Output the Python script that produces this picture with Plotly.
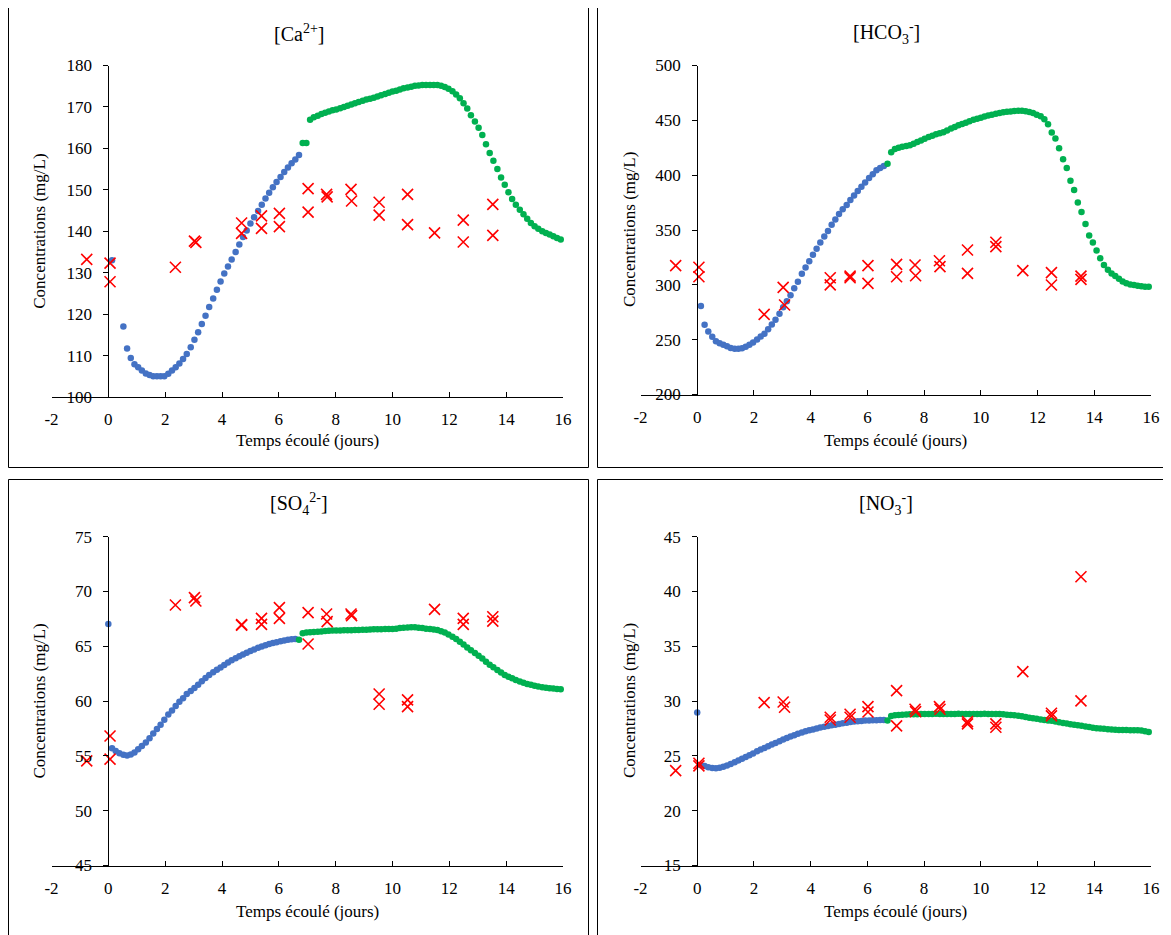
import plotly.graph_objects as go

# ---------------- data ----------------
T_START = [0.0]
T_BLUE = [0.13, 0.26, 0.39, 0.53, 0.66, 0.79, 0.92, 1.05, 1.18, 1.32, 1.45, 1.58, 1.71, 1.84, 1.97,
          2.11, 2.24, 2.37, 2.50, 2.63, 2.76, 2.90, 3.03, 3.16, 3.29, 3.42, 3.55, 3.69, 3.82, 3.95,
          4.08, 4.21, 4.34, 4.48, 4.61, 4.74, 4.87, 5.00, 5.13, 5.27, 5.40, 5.53, 5.66, 5.79, 5.92,
          6.06, 6.19, 6.32, 6.45, 6.58, 6.71]
T_GREEN = [6.71, 6.84, 6.97, 7.10, 7.23, 7.37, 7.50, 7.63, 7.76, 7.89, 8.02,
           8.16, 8.29, 8.42, 8.55, 8.68, 8.81, 8.95, 9.08, 9.21, 9.34,
           9.47, 9.60, 9.74, 9.87, 10.00, 10.13, 10.26, 10.39, 10.53, 10.66,
           10.79, 10.92, 11.05, 11.18, 11.32, 11.45, 11.58, 11.71, 11.84, 11.97,
           12.11, 12.24, 12.37, 12.50, 12.63, 12.76, 12.90, 13.03, 13.16, 13.29,
           13.42, 13.55, 13.69, 13.82, 13.95, 14.08, 14.21, 14.34, 14.48, 14.61,
           14.74, 14.87, 15.00, 15.13, 15.27, 15.40, 15.53, 15.66, 15.79, 15.92]
T_OBS = [-0.76, 0.06, 0.06, 2.36, 3.03, 3.08, 4.69, 4.69, 5.39, 5.39, 6.02, 6.02, 7.03, 7.03,
         7.68, 7.70, 8.54, 8.56, 9.53, 9.53, 10.53, 10.53, 11.48, 12.49, 12.49, 13.53, 13.53]

CA_BLUE = [133.0, None, None, 117.0, 111.7, 109.4, 107.9, 107.2, 106.4, 105.7, 105.3, 105.0, 105.0, 105.0, 105.0,
           105.6, 106.4, 107.2, 108.1, 109.2, 110.4, 112.0, 113.8, 115.6, 117.6, 119.6, 121.7, 123.8, 125.9, 127.9,
           129.8, 131.5, 133.2, 135.0, 136.8, 138.6, 140.2, 141.9, 143.4, 144.9, 146.4, 147.9, 149.3, 150.6, 151.9,
           153.1, 154.3, 155.4, 156.4, 157.3, 158.4]
CA_GREEN = [None, 161.3, 161.3, 166.9, 167.5, 167.9, 168.3, 168.6, 168.9, 169.2, 169.4,
            169.7, 170.0, 170.3, 170.6, 170.9, 171.2, 171.5, 171.8, 172.0, 172.2,
            172.5, 172.8, 173.1, 173.4, 173.7, 173.9, 174.2, 174.5, 174.7, 174.9,
            175.1, 175.2, 175.3, 175.3, 175.3, 175.3, 175.3, 175.1, 174.8, 174.4,
            173.8, 173.0, 172.1, 170.9, 169.6, 168.0, 166.5, 165.0, 163.2, 161.0,
            158.9, 157.0, 155.0, 153.0, 151.2, 149.4, 147.8, 146.4, 145.2, 144.1,
            143.0, 142.0, 141.2, 140.6, 140.0, 139.6, 139.2, 138.8, 138.4, 138.0]
CA_OBS = [133.2, 132.3, 127.8, 131.3, 137.6, 137.3, 142.0, 139.5, 143.7, 140.7, 144.3, 141.1, 150.3, 144.6,
          148.9, 148.3, 150.1, 147.3, 147.0, 143.9, 148.9, 141.6, 139.6, 142.7, 137.4, 146.5, 139.0]

HCO3_BLUE = [280.6, 263.5, 257.5, 252.7, 248.6, 246.8, 245.3, 244.1, 242.5, 241.8, 241.7, 242.2, 243.5, 245.4, 247.5,
             250.1, 253.0, 255.4, 259.5, 263.8, 268.2, 273.6, 279.5, 285.0, 290.5, 296.9, 302.8, 310.0, 315.8, 321.5,
             327.4, 332.9, 338.6, 344.0, 349.2, 354.8, 359.6, 364.6, 368.9, 372.8, 377.4, 381.5, 385.6, 389.4, 393.2,
             397.4, 400.8, 404.5, 406.5, 408.4, None]
HCO3_GREEN = [410.5, 420.8, 423.8, 425.0, 425.8, 426.5, 427.3, 428.6, 430.2, 431.7, 433.2,
              434.7, 436.0, 437.2, 438.2, 439.2, 440.8, 442.5, 444.0, 445.5, 446.6,
              447.7, 449.2, 450.5, 451.5, 452.3, 453.4, 454.4, 455.2, 456.0, 456.7,
              457.3, 457.8, 458.1, 458.5, 458.8, 458.8, 458.3, 457.6, 456.7, 455.2,
              453.7, 451.0, 446.5, 439.0, 433.5, 424.5, 414.5, 406.5, 395.0, 386.5,
              375.0, 366.5, 355.5, 345.0, 338.5, 331.2, 324.2, 318.1, 313.8, 310.3,
              308.0, 305.5, 303.0, 301.4, 300.4, 299.8, 299.1, 298.7, 298.3, 298.3]
HCO3_OBS = [317.5, 316.0, 307.4, 273.0, 297.7, 281.6, 306.5, 300.0, 308.0, 306.5, 317.5, 301.3, 318.7, 307.4,
            318.1, 308.3, 322.0, 316.6, 331.8, 310.5, 338.8, 334.8, 312.9, 311.1, 299.8, 308.0, 305.0]

SO4_START = [67.04]
SO4_BLUE = [55.70, 55.45, 55.25, 55.10, 55.03, 55.12, 55.30, 55.60, 55.90, 56.22, 56.62, 57.05, 57.45, 57.85, 58.30,
            58.78, 59.15, 59.55, 59.95, 60.27, 60.65, 60.92, 61.20, 61.50, 61.80, 62.10, 62.38, 62.64, 62.87, 63.07,
            63.30, 63.52, 63.72, 63.90, 64.09, 64.26, 64.41, 64.56, 64.71, 64.86, 64.98, 65.10, 65.20, 65.30, 65.38,
            65.47, 65.54, 65.60, 65.65, 65.67, None]
SO4_GREEN = [65.60, 66.20, 66.25, 66.28, 66.30, 66.33, 66.36, 66.40, 66.42, 66.44, 66.45,
             66.45, 66.46, 66.47, 66.47, 66.48, 66.48, 66.50, 66.52, 66.53, 66.55,
             66.55, 66.56, 66.57, 66.57, 66.58, 66.60, 66.66, 66.70, 66.72, 66.73,
             66.73, 66.70, 66.66, 66.60, 66.57, 66.53, 66.48, 66.38, 66.25, 66.08,
             65.88, 65.66, 65.42, 65.17, 64.90, 64.65, 64.40, 64.13, 63.88, 63.60,
             63.32, 63.08, 62.83, 62.60, 62.39, 62.22, 62.08, 61.93, 61.78, 61.67,
             61.57, 61.49, 61.41, 61.33, 61.26, 61.21, 61.17, 61.14, 61.11, 61.08]
SO4_OBS = [54.54, 56.82, 54.70, 68.77, 69.44, 69.13, 66.98, 66.92, 67.55, 67.00, 68.53, 67.55, 68.07, 65.21,
           67.95, 67.25, 67.95, 67.80, 60.65, 59.71, 60.11, 59.50, 68.37, 67.55, 67.00, 67.70, 67.30]

NO3_START = [28.95]
NO3_BLUE = [24.15, 24.07, 23.97, 23.90, 23.88, 23.92, 24.00, 24.12, 24.27, 24.42, 24.59, 24.75, 24.90, 25.05, 25.21,
            25.42, 25.58, 25.73, 25.88, 26.03, 26.18, 26.34, 26.50, 26.64, 26.77, 26.89, 27.01, 27.13, 27.24, 27.33,
            27.42, 27.51, 27.60, 27.67, 27.73, 27.79, 27.85, 27.91, 27.97, 28.03, 28.09, 28.13, 28.16, 28.19, 28.22,
            28.22, 28.25, 28.25, 28.28, 28.28, None]
NO3_GREEN = [28.22, 28.65, 28.70, 28.74, 28.76, 28.78, 28.79, 28.80, 28.81, 28.82, 28.83,
             28.83, 28.83, 28.84, 28.83, 28.83, 28.82, 28.83, 28.83, 28.84, 28.83,
             28.83, 28.83, 28.82, 28.83, 28.83, 28.84, 28.83, 28.83, 28.82, 28.82,
             28.80, 28.76, 28.73, 28.70, 28.67, 28.62, 28.54, 28.48, 28.43, 28.38,
             28.31, 28.27, 28.24, 28.20, 28.14, 28.07, 28.01, 27.95, 27.89, 27.84,
             27.79, 27.74, 27.69, 27.64, 27.57, 27.53, 27.50, 27.47, 27.44, 27.41,
             27.38, 27.37, 27.37, 27.36, 27.35, 27.34, 27.34, 27.32, 27.25, 27.19]
NO3_OBS = [23.66, 24.33, 24.09, 29.86, 29.92, 29.44, 28.53, 28.28, 28.80, 28.53, 29.50, 29.01, 30.96, 27.74,
           29.26, 29.04, 29.50, 29.26, 28.13, 27.92, 27.92, 27.61, 32.69, 28.89, 28.65, 41.35, 30.02]

TITLES = ["[Ca<sup>2+</sup>]", "[HCO<sub>3</sub><sup>-</sup>]", "[SO<sub>4</sub><sup>2-</sup>]", "[NO<sub>3</sub><sup>-</sup>]"]
Y_RANGES = [(100, 180, 10), (200, 500, 50), (45, 75, 5), (15, 45, 5)]
X_TICKS = [-2, 0, 2, 4, 6, 8, 10, 12, 14, 16]
X_TICKTEXT = ["-2", "0", "2", "4", "6", "8", "10", "12", "14", "16"]
X_TITLE = "Temps écoulé (jours)"
Y_TITLE = "Concentrations (mg/L)"

# ---------------- figure ----------------
W, H = 1171, 935
OFF = 8  # page body margin in the browser
FONT = "Liberation Serif"
BLUE, GREEN, RED = "#4472C4", "#00B050", "#FF0000"


def fx(px):
    return (px - OFF) / W


def fy(py):
    return 1 - (py - OFF) / H


panels = [
    dict(t_blue=T_BLUE, blue=CA_BLUE, green=CA_GREEN, obs=CA_OBS),
    dict(t_blue=T_BLUE, blue=HCO3_BLUE, green=HCO3_GREEN, obs=HCO3_OBS),
    dict(t_blue=T_START + T_BLUE, blue=SO4_START + SO4_BLUE, green=SO4_GREEN, obs=SO4_OBS),
    dict(t_blue=T_START + T_BLUE, blue=NO3_START + NO3_BLUE, green=NO3_GREEN, obs=NO3_OBS),
]

# pixel geometry of each panel in screen pixels
geo = [
    dict(px=(51.5, 563.0), py=(65.5, 397.0), frame=(8.5, 588.5, 7.5, 467.5), tx=298.5, ty=33, ytx=39.5, xty=440),
    dict(px=(640.5, 1151.0), py=(65.5, 394.5), frame=(597.5, 1190, 7.5, 467.5), tx=886, ty=33, ytx=629, xty=440),
    dict(px=(51.5, 563.0), py=(536.7, 865.5), frame=(8.5, 588.5, 479.5, 960), tx=298.5, ty=504, ytx=39.5, xty=911),
    dict(px=(640.5, 1151.0), py=(536.7, 865.5), frame=(597.5, 1190, 479.5, 960), tx=886, ty=504, ytx=629, xty=911),
]

fig = go.Figure()
layout = dict(width=W, height=H, autosize=False, margin=dict(l=0, r=0, t=0, b=0, pad=0, autoexpand=False),
              paper_bgcolor="white", plot_bgcolor="white", showlegend=False,
              font=dict(family=FONT, color="black", size=17))
annotations = []
shapes = []

for i, (p, g) in enumerate(zip(panels, geo)):
    n = "" if i == 0 else str(i + 1)
    xa, ya = "x" + n, "y" + n
    fig.add_trace(go.Scatter(x=p["t_blue"], y=p["blue"], mode="markers", xaxis=xa, yaxis=ya,
                             marker=dict(color=BLUE, size=6.5), cliponaxis=False))
    fig.add_trace(go.Scatter(x=T_GREEN, y=p["green"], mode="markers", xaxis=xa, yaxis=ya,
                             marker=dict(color=GREEN, size=6.5), cliponaxis=False))
    fig.add_trace(go.Scatter(x=T_OBS, y=p["obs"], mode="markers", xaxis=xa, yaxis=ya,
                             marker=dict(symbol="x-thin", size=11, color=RED,
                                         line=dict(color=RED, width=1.6)), cliponaxis=False))
    x0, x1 = g["px"]
    yt, yb = g["py"]
    xdom = [fx(x0), fx(x1)]
    ydom = [fy(yb), fy(yt)]
    ypos = fx(x0 + (x1 - x0) * 2 / 18)
    lo, hi, dt = Y_RANGES[i]
    layout["xaxis" + n] = dict(domain=xdom, range=[-2, 16], anchor=ya, tickvals=X_TICKS, ticktext=X_TICKTEXT,
                               ticks="inside", ticklen=5, tickwidth=1, tickcolor="black",
                               showline=True, linecolor="black", linewidth=1, automargin=False,
                               showgrid=False, zeroline=False, ticklabelstandoff=7,
                               tickfont=dict(family=FONT, size=17, color="black"))
    layout["yaxis" + n] = dict(domain=ydom, range=[lo, hi], dtick=dt, tick0=lo, anchor="free", position=ypos,
                               ticks="outside", ticklen=5, tickwidth=1, tickcolor="black",
                               showline=True, linecolor="black", linewidth=1, automargin=False,
                               showgrid=False, zeroline=False, ticklabelstandoff=8,
                               tickfont=dict(family=FONT, size=17, color="black"))
    annotations.append(dict(text=TITLES[i], x=fx(g["tx"]), y=fy(g["ty"]), xref="paper", yref="paper",
                            showarrow=False, xanchor="center", yanchor="middle",
                            font=dict(family=FONT, size=20, color="black")))
    annotations.append(dict(text=Y_TITLE, x=fx(g["ytx"]), y=fy((yt + yb) / 2), xref="paper", yref="paper",
                            showarrow=False, textangle=-90, xanchor="center", yanchor="middle",
                            font=dict(family=FONT, size=17, color="black")))
    annotations.append(dict(text=X_TITLE, x=fx((x0 + x1) / 2), y=fy(g["xty"]), xref="paper", yref="paper",
                            showarrow=False, xanchor="center", yanchor="middle",
                            font=dict(family=FONT, size=17, color="black")))
    bx0, bx1, by0, by1 = g["frame"]
    shapes.append(dict(type="rect", xref="paper", yref="paper",
                       x0=fx(bx0), x1=fx(bx1), y0=fy(by1), y1=fy(by0),
                       line=dict(color="black", width=1), fillcolor="rgba(0,0,0,0)"))

layout["annotations"] = annotations
layout["shapes"] = shapes
fig.update_layout(**layout)
fig.write_html("out.html")
